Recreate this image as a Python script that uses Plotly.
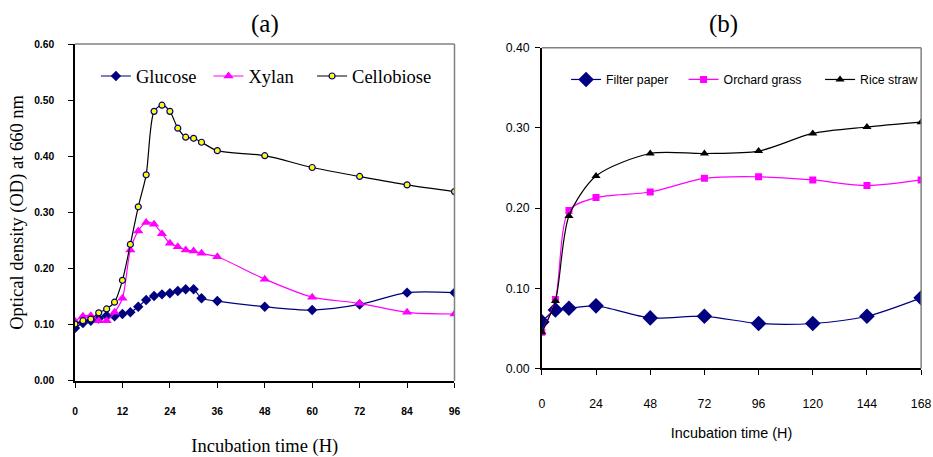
import plotly.graph_objects as go

# ---------- Panel (a) data ----------
time_a = [0, 2, 4, 6, 8, 10, 12, 14, 16, 18, 20, 22, 24, 26, 28, 30, 32, 36, 48, 60, 72, 84, 96]
glucose = [0.094, 0.103, 0.107, 0.111, 0.116, 0.115, 0.119, 0.122, 0.132, 0.144, 0.151, 0.154, 0.156,
           0.160, 0.163, 0.163, 0.147, 0.142, 0.132, 0.126, 0.136, 0.157, 0.157]
xylan = [0.106, 0.115, 0.116, 0.107, 0.107, 0.122, 0.147, 0.233, 0.267, 0.282, 0.279, 0.262, 0.245,
         0.239, 0.233, 0.231, 0.227, 0.221, 0.181, 0.149, 0.138, 0.122, 0.119]
cellobiose = [0.101, 0.107, 0.110, 0.121, 0.128, 0.140, 0.179, 0.243, 0.310, 0.367, 0.480, 0.491, 0.480,
              0.450, 0.434, 0.432, 0.425, 0.410, 0.401, 0.380, 0.364, 0.349, 0.337]
ticks_a_x = [0, 12, 24, 36, 48, 60, 72, 84, 96]
ticks_a_y = [0.0, 0.1, 0.2, 0.3, 0.4, 0.5, 0.6]

# ---------- Panel (b) data ----------
time_b = [0, 6, 12, 24, 48, 72, 96, 120, 144, 168]
filter_paper = [0.058, 0.073, 0.075, 0.078, 0.063, 0.065, 0.056, 0.056, 0.065, 0.088]
orchard_grass = [0.045, 0.086, 0.197, 0.213, 0.220, 0.237, 0.239, 0.235, 0.228, 0.235]
rice_straw = [0.045, 0.084, 0.190, 0.240, 0.268, 0.268, 0.271, 0.293, 0.301, 0.307]
ticks_b_x = [0, 24, 48, 72, 96, 120, 144, 168]
ticks_b_y = [0.0, 0.1, 0.2, 0.3, 0.4]

SERIF = "Liberation Serif"
SANS = "Liberation Sans"
NAVY = "#000080"
MAG = "#FF00FF"

W, H = 933, 470


def sx(r):
    # compensate for the observed capture mapping (horizontal)
    return (r - 1.7) / 0.990


def sy(r):
    # compensate for the observed capture mapping (vertical)
    return (r - 7.85) / 0.966


def px(s):
    return sx(s) / W


def py(s):
    return 1 - sy(s) / H


fig = go.Figure()
sm = 0.8

fig.add_trace(go.Scatter(x=time_a, y=glucose, name="Glucose", mode="lines+markers",
                         line=dict(color=NAVY, width=1.2, shape="spline", smoothing=sm),
                         marker=dict(symbol="diamond", size=8, color=NAVY),
                         xaxis="x", yaxis="y", legend="legend"))
fig.add_trace(go.Scatter(x=time_a, y=xylan, name="Xylan", mode="lines+markers",
                         line=dict(color=MAG, width=1.2, shape="spline", smoothing=sm),
                         marker=dict(symbol="triangle-up", size=9, color=MAG),
                         xaxis="x", yaxis="y", legend="legend2"))
fig.add_trace(go.Scatter(x=time_a, y=cellobiose, name="Cellobiose", mode="lines+markers",
                         line=dict(color="black", width=1.2, shape="spline", smoothing=sm),
                         marker=dict(symbol="circle", size=6, color="#FFFF00",
                                     line=dict(color=NAVY, width=1.2)),
                         xaxis="x", yaxis="y", legend="legend3"))

fig.add_trace(go.Scatter(x=time_b, y=filter_paper, name="Filter paper", mode="lines+markers",
                         line=dict(color=NAVY, width=1.2, shape="spline", smoothing=sm),
                         marker=dict(symbol="diamond", size=12, color=NAVY),
                         xaxis="x2", yaxis="y2", legend="legend4"))
fig.add_trace(go.Scatter(x=time_b, y=orchard_grass, name="Orchard grass", mode="lines+markers",
                         line=dict(color=MAG, width=1.2, shape="spline", smoothing=sm),
                         marker=dict(symbol="square", size=7, color=MAG),
                         xaxis="x2", yaxis="y2", legend="legend5"))
fig.add_trace(go.Scatter(x=time_b, y=rice_straw, name="Rice straw", mode="lines+markers",
                         line=dict(color="black", width=1.2, shape="spline", smoothing=sm),
                         marker=dict(symbol="triangle-up", size=8, color="black"),
                         xaxis="x2", yaxis="y2", legend="legend6"))

axis_common = dict(showgrid=False, zeroline=False, showline=True, linecolor="black", linewidth=1.5,
                   ticks="outside", ticklen=5, tickcolor="black", tickwidth=1)


def leg(text_start, yc, font):
    return dict(orientation="h", x=px(text_start - 42), y=py(yc), xanchor="left", yanchor="middle",
                font=font, bgcolor="rgba(0,0,0,0)", itemwidth=30)


fa = dict(family=SERIF, size=18.5, color="black")
fb = dict(family=SANS, size=12.3, color="black")

fig.update_layout(
    width=W, height=H, margin=dict(l=0, r=0, t=0, b=0),
    paper_bgcolor="white", plot_bgcolor="white", showlegend=True,
    xaxis=dict(domain=[px(74), px(455)], range=[0, 96], tickvals=ticks_a_x,
               ticktext=[str(v) for v in ticks_a_x], anchor="y",
               tickfont=dict(family=SANS, size=10.3, color="black", weight="bold"),
               ticklabelstandoff=15,
               title=dict(text="Incubation time (H)", font=dict(family=SERIF, size=18.5, color="black"),
                          standoff=23),
               **axis_common),
    yaxis=dict(domain=[py(380), py(44.7)], range=[0, 0.6], tickvals=ticks_a_y,
               ticktext=[f"{v:.2f}" for v in ticks_a_y], anchor="x",
               tickfont=dict(family=SANS, size=10.3, color="black", weight="bold"),
               ticklabelstandoff=12,
               title=dict(text="Optical density (OD) at 660 nm",
                          font=dict(family=SERIF, size=18.5, color="black"), standoff=6),
               **axis_common),
    xaxis2=dict(domain=[px(542.7), px(923.5)], range=[0, 168], tickvals=ticks_b_x,
                ticktext=[str(v) for v in ticks_b_x], anchor="y2",
                tickfont=dict(family=SANS, size=12.3, color="black"),
                ticklabelstandoff=18, ticklabeloverflow="allow",
                title=dict(text="Incubation time (H)", font=dict(family=SANS, size=14.4, color="black"),
                           standoff=18),
                **axis_common),
    yaxis2=dict(domain=[py(367.7), py(48.3)], range=[0, 0.4], tickvals=ticks_b_y,
                ticktext=[f"{v:.2f}" for v in ticks_b_y], anchor="x2",
                tickfont=dict(family=SANS, size=12.3, color="black"),
                ticklabelstandoff=3,
                **axis_common),
    legend=leg(137, 77, fa),
    legend2=leg(250, 77, fa),
    legend3=leg(354, 77, fa),
    legend4=leg(609, 80, fb),
    legend5=leg(727, 80, fb),
    legend6=leg(864, 80, fb),
    annotations=[
        dict(text="(a)", x=px(265), y=py(25), xref="paper", yref="paper", showarrow=False,
             font=dict(family=SERIF, size=25, color="black"), xanchor="center", yanchor="middle"),
        dict(text="(b)", x=px(725), y=py(25), xref="paper", yref="paper", showarrow=False,
             font=dict(family=SERIF, size=25, color="black"), xanchor="center", yanchor="middle"),
    ],
    shapes=[
        dict(type="line", xref="x domain", yref="y domain", x0=0, x1=1, y0=1, y1=1,
             line=dict(color="#808080", width=1.5)),
        dict(type="line", xref="x domain", yref="y domain", x0=1, x1=1, y0=0, y1=1,
             line=dict(color="#808080", width=1.5)),
        dict(type="line", xref="x2 domain", yref="y2 domain", x0=0, x1=1, y0=1, y1=1,
             line=dict(color="#808080", width=1.5)),
        dict(type="line", xref="x2 domain", yref="y2 domain", x0=1, x1=1, y0=0, y1=1,
             line=dict(color="#808080", width=1.5)),
    ],
)

fig.write_html(
    "out.html",
    config={"displayModeBar": False},
    post_script=("document.documentElement.style.overflow='hidden';"
                 "document.body.style.margin='0';document.body.style.overflow='hidden';"),
)
